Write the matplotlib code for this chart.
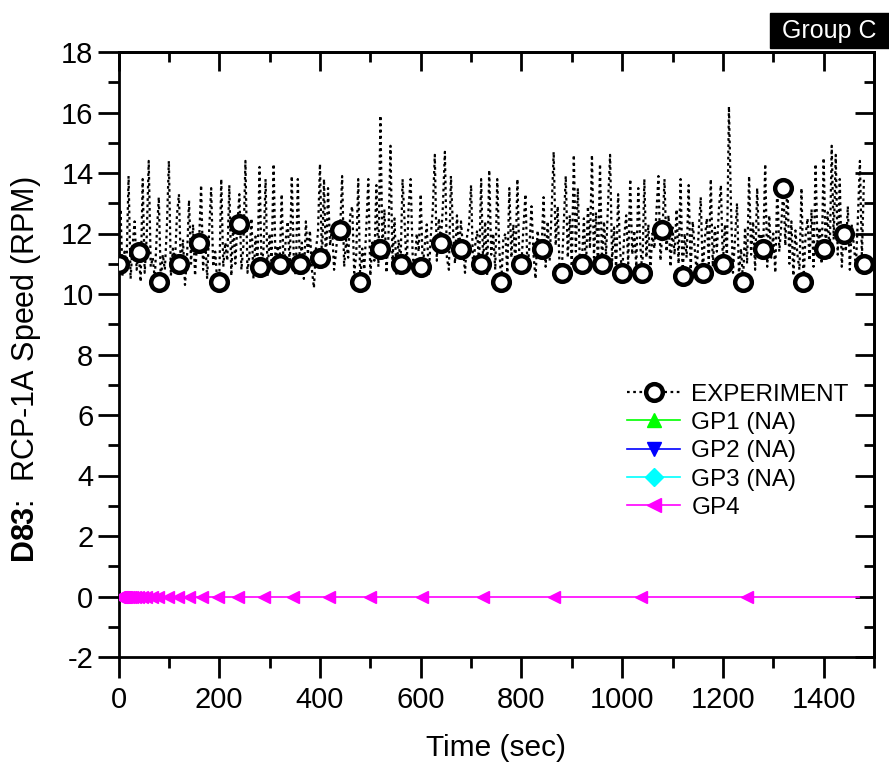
import numpy as np
import matplotlib
matplotlib.use('Agg')
import matplotlib.pyplot as plt
from matplotlib.lines import Line2D
from matplotlib.patches import Rectangle
from matplotlib.ticker import MultipleLocator

plt.rcParams['font.family'] = ['Liberation Sans', 'DejaVu Sans']
plt.rcParams['mathtext.fontset'] = 'custom'
plt.rcParams['mathtext.rm'] = 'Liberation Sans'
plt.rcParams['mathtext.bf'] = 'Liberation Sans:bold'
plt.rcParams['axes.unicode_minus'] = False

# experiment trace, one reading every 4 s from 0 to 1480 s
exp_step = 4
exp_speed = [
    11.0, 12.8, 10.6, 11.4, 11.0, 13.9, 10.5, 11.6, 12.4, 10.8,
    11.4, 10.4, 13.8, 10.7, 11.9, 14.4, 10.9, 11.2, 10.5, 12.0,
    13.2, 10.4, 11.3, 10.8, 12.2, 14.4, 10.6, 11.5, 11.0, 12.6,
    13.3, 10.7, 11.8, 10.3, 11.2, 13.1, 11.0, 12.3, 10.6, 11.7,
    11.7, 13.6, 10.8, 11.9, 10.5, 12.1, 13.5, 10.9, 11.4, 10.4,
    10.4, 13.8, 10.9, 11.7, 11.1, 13.6, 10.6, 12.4, 11.0, 12.3,
    13.3, 10.8, 11.6, 14.4, 10.7, 11.3, 12.5, 10.5, 11.9, 11.0,
    14.2, 10.9, 11.5, 13.8, 10.6, 12.0, 11.1, 14.3, 10.8, 11.6,
    11.0, 13.3, 10.7, 11.8, 12.4, 10.9, 13.9, 11.2, 10.6, 13.8,
    11.0, 11.7, 10.5, 12.4, 11.3, 12.1, 10.8, 10.2, 11.5, 12.0,
    14.3, 11.0, 13.8, 10.9, 13.5, 11.6, 12.2, 10.8, 11.4, 12.3,
    12.1, 13.9, 10.9, 11.8, 11.2, 12.6, 12.9, 10.7, 11.3, 13.8,
    10.4, 11.5, 10.8, 12.2, 13.8, 10.6, 11.7, 11.1, 13.6, 10.9,
    15.9, 11.5, 12.8, 10.7, 11.9, 14.9, 11.0, 12.5, 10.6, 11.8,
    11.0, 13.8, 12.4, 10.8, 12.9, 13.8, 11.3, 10.7, 12.0, 11.4,
    13.3, 10.9, 11.6, 12.3, 10.6, 11.9, 12.8, 14.6, 11.1, 12.5,
    11.7, 12.9, 14.7, 11.2, 10.8, 13.9, 12.2, 11.0, 12.6, 11.4,
    12.4, 11.5, 10.7, 11.9, 12.3, 13.6, 10.8, 11.6, 12.1, 10.9,
    13.8, 11.0, 12.4, 10.6, 14.1, 11.3, 12.0, 10.8, 13.8, 11.5,
    10.4, 11.8, 12.0, 10.7, 13.5, 11.2, 12.3, 10.9, 13.8, 11.1,
    11.0, 12.2, 13.3, 10.8, 11.6, 12.9, 11.3, 10.5, 12.1, 11.5,
    11.5, 13.2, 10.9, 12.4, 11.1, 12.8, 14.7, 11.6, 12.9, 10.7,
    10.7, 12.3, 13.9, 11.2, 12.6, 10.9, 14.6, 11.4, 13.5, 11.0,
    11.0, 12.5, 10.8, 12.9, 11.5, 14.6, 11.2, 12.7, 10.9, 14.3,
    11.0, 12.4, 11.3, 13.0, 14.6, 11.1, 12.2, 10.8, 13.3, 11.4,
    10.7, 11.9, 12.6, 11.0, 13.8, 11.3, 12.1, 10.9, 13.5, 11.6,
    10.7, 13.8, 11.2, 12.3, 10.8, 12.0, 11.5, 12.7, 13.9, 11.1,
    12.1, 13.8, 11.4, 12.6, 10.9, 12.2, 11.3, 12.8, 11.0, 13.8,
    10.6, 12.0, 11.2, 13.6, 10.8, 12.4, 11.5, 10.7, 12.1, 13.2,
    10.7, 11.8, 12.5, 11.0, 13.8, 10.9, 12.2, 11.4, 12.8, 13.6,
    11.0, 12.3, 11.2, 16.2, 12.9, 10.7, 11.8, 13.0, 10.6, 11.5,
    10.4, 12.2, 11.0, 13.9, 11.3, 12.4, 10.8, 13.5, 11.6, 12.0,
    11.5, 14.3, 10.9, 12.6, 11.2, 12.0, 10.7, 13.6, 11.4, 12.3,
    13.5, 11.6, 13.8, 11.0, 12.4, 10.6, 12.1, 11.3, 10.8, 13.5,
    10.4, 11.9, 12.5, 11.1, 12.8, 10.9, 14.3, 11.5, 12.2, 11.0,
    14.5, 11.5, 12.7, 11.2, 14.9, 11.8, 14.6, 11.3, 13.8, 10.9,
    12.0, 11.4, 12.9, 10.8, 12.3, 11.6, 10.9, 12.5, 14.4, 11.2,
    13.8,
]
exp_time = np.arange(len(exp_speed)) * exp_step

# experiment symbols, every 40 s
exp_mark_time = list(range(0, 1481, 40))
exp_mark_speed = [11.0, 11.4, 10.4, 11.0, 11.7, 10.4, 12.3, 10.9, 11.0, 11.0,
                  11.2, 12.1, 10.4, 11.5, 11.0, 10.9, 11.7, 11.5, 11.0, 10.4,
                  11.0, 11.5, 10.7, 11.0, 11.0, 10.7, 10.7, 12.1, 10.6, 10.7,
                  11.0, 10.4, 11.5, 13.5, 10.4, 11.5, 12.0, 11.0]

# GP4 calculation output (time steps grow with time)
gp4_time = [0, 2, 4, 5, 6, 7.5, 9, 11, 13, 15.5, 18.5, 22, 27, 32, 38, 46,
            55, 66, 79, 99, 119, 139, 165, 198, 238, 288, 347, 417, 500,
            602, 724, 864, 1038, 1248, 1470]
gp4_speed = [0] * len(gp4_time)

fig = plt.figure(figsize=(8.89, 7.67), dpi=100)
ax = fig.add_axes([118.5 / 889, 1 - 657 / 767, (874 - 118.5) / 889, (657 - 52) / 767])

dots = (0, (1.2, 1.6))
ax.plot(exp_time, exp_speed, color='black', lw=1.6, ls=dots, zorder=3)
ax.plot(exp_mark_time, exp_mark_speed, ls='none', marker='o', ms=12,
        mfc='white', mec='black', mew=3.2, zorder=4)
ax.plot(gp4_time, gp4_speed, color='#ff00ff', lw=1.2, marker='<', ms=9,
        markevery=list(range(len(gp4_time) - 1)), zorder=3)

handles = [
    Line2D([], [], color='black', lw=1.6, ls=dots, marker='o', ms=12,
           mfc='white', mec='black', mew=3.2),
    Line2D([], [], color='#00ff00', lw=1.2, marker='^', ms=10),
    Line2D([], [], color='#0000ff', lw=1.2, marker='v', ms=10),
    Line2D([], [], color='#00ffff', lw=1.2, marker='D', ms=9),
    Line2D([], [], color='#ff00ff', lw=1.2, marker='<', ms=10),
]
labels = ['EXPERIMENT', 'GP1 (NA)', 'GP2 (NA)', 'GP3 (NA)', 'GP4']
ax.legend(handles, labels, loc='upper left', bbox_to_anchor=(0.66, 0.468),
          frameon=False, fontsize=17.5, handlelength=2.2, handletextpad=0.45,
          labelspacing=0.26, borderaxespad=0)

ax.set_xlim(0, 1500)
ax.set_ylim(-2, 18)
ax.xaxis.set_major_locator(MultipleLocator(200))
ax.xaxis.set_minor_locator(MultipleLocator(100))
ax.yaxis.set_major_locator(MultipleLocator(2))
ax.yaxis.set_minor_locator(MultipleLocator(1))
ax.tick_params(which='both', direction='out', width=2, labelsize=21)
ax.tick_params(which='major', length=15)
ax.tick_params(which='minor', length=8)
ax.tick_params(axis='x', pad=6)
ax.tick_params(axis='y', pad=3)
for s in ax.spines.values():
    s.set_linewidth(2)

# inward ticks on the top and right frame
top = ax.secondary_xaxis('top')
right = ax.secondary_yaxis('right')
for sec, axis in ((top, top.xaxis), (right, right.yaxis)):
    axis.set_major_locator(MultipleLocator(200 if sec is top else 2))
    axis.set_minor_locator(MultipleLocator(100 if sec is top else 1))
    sec.tick_params(which='both', direction='in', width=2, labelsize=0,
                    labeltop=False, labelright=False)
    sec.tick_params(which='major', length=14)
    sec.tick_params(which='minor', length=7)
    for s in sec.spines.values():
        s.set_linewidth(2)

ax.set_xlabel('Time (sec)', fontsize=21.5)
ax.xaxis.set_label_coords(0.5, -0.128)
ax.set_ylabel(r'$\mathbf{D83}$:  RCP-1A Speed (RPM)', fontsize=22)
ax.yaxis.set_label_coords(-0.1, 0.475)

fig.patches.append(Rectangle((770 / 889, 1 - 48 / 767), 119 / 889, 35 / 767,
                             transform=fig.transFigure, color='black', zorder=5))
fig.text(829.5 / 889, 1 - 31 / 767, 'Group C', color='white', fontsize=18,
         ha='center', va='center', zorder=6)

fig.savefig('out.png', dpi=100)
